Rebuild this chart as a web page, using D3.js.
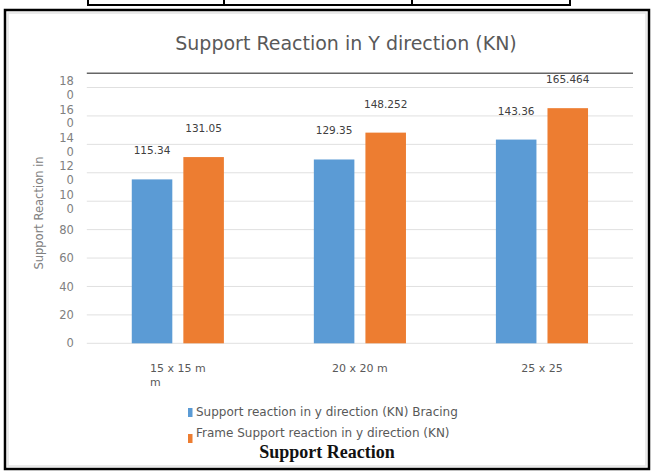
<!DOCTYPE html>
<html>
<head>
<meta charset="utf-8">
<script src="https://cdn.jsdelivr.net/npm/d3@7.9.0/dist/d3.min.js"></script>
<style>
  body { margin: 0; background: #fff; }
  svg { display: block; font-family: "DejaVu Sans", sans-serif; }
</style>
</head>
<body>
<svg id="chart" width="652" height="474"></svg>
<script>
// chart values
const categories = ["15 x 15 m\nm", "20 x 20 m", "25 x 25"];
const bracing = [115.34, 129.35, 143.36];
const frame = [131.05, 148.252, 165.464];
const seriesNames = [
  "Support reaction in y direction (KN) Bracing",
  "Frame Support reaction in y direction (KN)"
];
const yTicks = [0, 20, 40, 60, 80, 100, 120, 140, 160, 180];
const colors = ["#5b9bd5", "#ed7d31"];

const svg = d3.select("#chart");

// outer frame + bits of the table above
svg.append("rect")
  .attr("x", 5).attr("y", 10).attr("width", 644).attr("height", 459)
  .attr("fill", "#fff").attr("stroke", "#000").attr("stroke-width", 2.5);
svg.append("rect")
  .attr("x", 8).attr("y", 13).attr("width", 638).attr("height", 453)
  .attr("fill", "none").attr("stroke", "#e4e4e4").attr("stroke-width", 1.5);
svg.append("path")
  .attr("d", "M88,0V5H570V0M224,0V5M412,0V5")
  .attr("fill", "none").attr("stroke", "#000").attr("stroke-width", 2);

// title
svg.append("text")
  .attr("x", 346).attr("y", 50)
  .attr("text-anchor", "middle")
  .attr("font-size", 19).attr("fill", "#595959")
  .text("Support Reaction in Y direction (KN)");

// scales
const x0 = d3.scaleBand().domain(categories).range([86.8, 633]);
const bw = x0.bandwidth();
const x1 = d3.scaleBand().domain([0, 1])
  .range([bw * 0.247, bw * 0.753]).paddingInner(0.214);
const y = d3.scaleLinear().domain([0, 190]).range([343.3, 73.3]);

// gridlines
svg.append("g").selectAll("line")
  .data(yTicks)
  .join("line")
  .attr("x1", 86.8).attr("x2", 633)
  .attr("y1", d => y(d)).attr("y2", d => y(d))
  .attr("stroke", "#e0e0e0").attr("stroke-width", 1);

// y axis labels (narrow, so 3-digit numbers wrap)
const yAxis = svg.append("g")
  .attr("transform", "translate(86.8,0)")
  .call(d3.axisLeft(y).tickValues(yTicks).tickSize(0).tickPadding(13));
yAxis.select(".domain").remove();
yAxis.selectAll("text")
  .attr("font-size", 11.5).attr("fill", "#808080")
  .attr("font-family", "DejaVu Sans, sans-serif")
  .each(function (d) {
    const s = String(d);
    const t = d3.select(this);
    if (s.length > 2) {
      t.text(null).attr("dy", null);
      t.append("tspan").attr("x", -13).attr("dy", "-0.25em").text(s.slice(0, 2));
      t.append("tspan").attr("x", -13).attr("dy", "1.2em").text(s.slice(2));
    }
  });

// y axis title
svg.append("text")
  .attr("transform", "translate(43,213) rotate(-90)")
  .attr("text-anchor", "middle")
  .attr("font-size", 11.5).attr("fill", "#808080")
  .text("Support Reaction in");

// bars
const groups = svg.append("g").selectAll("g")
  .data(categories)
  .join("g")
  .attr("transform", d => `translate(${x0(d)},0)`);

const vals = (i) => [bracing[i], frame[i]];

groups.selectAll("rect")
  .data((d, i) => vals(i))
  .join("rect")
  .attr("x", (d, j) => x1(j))
  .attr("width", x1.bandwidth())
  .attr("y", d => y(d))
  .attr("height", d => y(0) - y(d))
  .attr("fill", (d, j) => colors[j]);

groups.selectAll("text.val")
  .data((d, i) => vals(i))
  .join("text")
  .attr("class", "val")
  .attr("x", (d, j) => x1(j) + x1.bandwidth() / 2)
  .attr("y", d => y(d) - 25)
  .attr("text-anchor", "middle")
  .attr("font-size", 10.5).attr("fill", "#404040")
  .text(d => d);

// top border line (drawn over the last label as in the picture)
svg.append("line")
  .attr("x1", 86.8).attr("x2", 633)
  .attr("y1", y(190)).attr("y2", y(190))
  .attr("stroke", "#666").attr("stroke-width", 1.5);

// category labels
groups.each(function (d) {
  const lines = d.split("\n");
  const t = d3.select(this).append("text")
    .attr("y", 372)
    .attr("font-size", 11).attr("fill", "#595959");
  const first = t.append("tspan").attr("x", bw / 2).attr("text-anchor", "middle").text(lines[0]);
  const w = first.node().getComputedTextLength();
  lines.slice(1).forEach(l => {
    t.append("tspan").attr("x", bw / 2 - w / 2).attr("dy", 14)
      .attr("text-anchor", "start").text(l);
  });
});

// legend
const legend = svg.append("g").attr("transform", "translate(188,0)");
const legendRows = [{ ty: 416, sy: 408 }, { ty: 437, sy: 434 }];
seriesNames.forEach((name, i) => {
  legend.append("rect")
    .attr("x", 0).attr("y", legendRows[i].sy)
    .attr("width", 4.5).attr("height", 9)
    .attr("fill", colors[i]);
  legend.append("text")
    .attr("x", 8).attr("y", legendRows[i].ty)
    .attr("font-size", 12).attr("fill", "#595959")
    .text(name);
});

// caption
svg.append("text")
  .attr("x", 327).attr("y", 458)
  .attr("text-anchor", "middle")
  .attr("font-family", "Liberation Serif, Times New Roman, serif")
  .attr("font-weight", "bold").attr("font-size", 18).attr("fill", "#111")
  .text("Support Reaction");
</script>
</body>
</html>
